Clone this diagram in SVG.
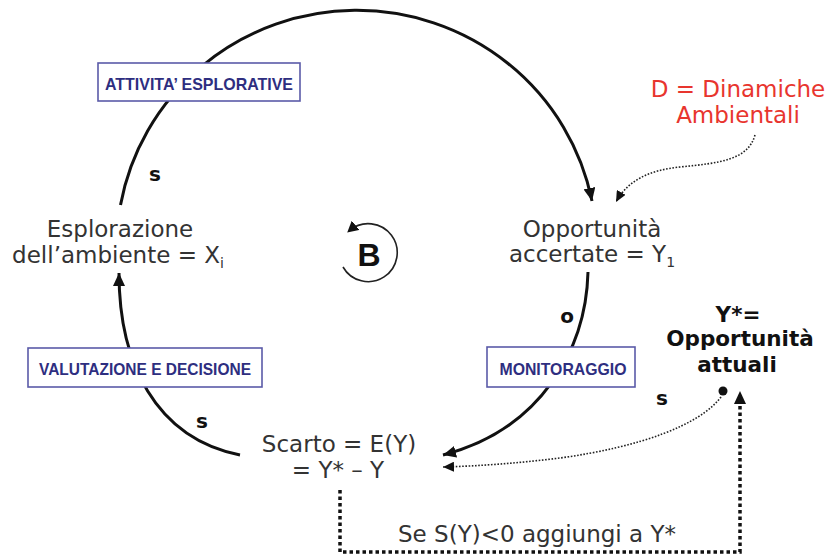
<svg xmlns="http://www.w3.org/2000/svg" width="828" height="559" viewBox="0 0 828 559">
  <style>
    .node { font-family: "DejaVu Sans", Verdana, sans-serif; font-size: 23px; fill: #333333; text-anchor: middle; }
    .sign { font-family: "DejaVu Sans", Verdana, sans-serif; font-size: 20px; font-weight: bold; fill: #111111; text-anchor: middle; }
    .star { font-family: "DejaVu Sans", Verdana, sans-serif; font-size: 21.5px; font-weight: bold; fill: #111111; text-anchor: middle; }
    .red { font-family: "DejaVu Sans", Verdana, sans-serif; font-size: 23px; fill: #e8352e; text-anchor: middle; }
    .tagbox { fill: #ffffff; stroke: #5a5aa8; stroke-width: 1.6; }
    .tagtext { font-family: "Liberation Sans", Arial, sans-serif; font-size: 17px; font-weight: bold; fill: #2e2e80; text-anchor: middle; }
    .flow { fill: none; stroke: #111111; stroke-width: 3; }
    .fine { fill: none; stroke: #222222; stroke-width: 1.6; stroke-dasharray: 1.6 1.6; }
    .bold-dots { fill: none; stroke: #111111; stroke-width: 3.5; stroke-dasharray: 3.5 3; }
  </style>
  <defs>
    <marker id="head" markerUnits="userSpaceOnUse" markerWidth="14" markerHeight="12" refX="13" refY="6" orient="auto">
      <path d="M0,0 L13,6 L0,12 z" fill="#111111"/>
    </marker>
    <marker id="head-small" markerUnits="userSpaceOnUse" markerWidth="12" markerHeight="10" refX="11" refY="5" orient="auto">
      <path d="M0,0 L11,5 L0,10 z" fill="#111111"/>
    </marker>
    <marker id="head-loop" markerUnits="userSpaceOnUse" markerWidth="12" markerHeight="12" refX="8" refY="6" orient="auto">
      <path d="M0,0 L11,6 L0,12 z" fill="#111111"/>
    </marker>
  </defs>

  <rect width="828" height="559" fill="#ffffff"/>

  <!-- connectors -->
  <g id="connectors">
    <!-- exploration -> ascertained opportunities (over the top) -->
    <path class="flow" d="M120.5,205 A240,237 0 0 1 592,201" marker-end="url(#head)"/>
    <!-- ascertained opportunities -> gap -->
    <path class="flow" d="M588,272 C586,350 540,430 443,455" marker-end="url(#head)"/>
    <!-- gap -> exploration -->
    <path class="flow" d="M240,455 C155,438 119,362 119,273" marker-end="url(#head)"/>
    <!-- environmental dynamics -> opportunities -->
    <path class="fine" d="M755,135 C748,160 720,163 680,167 C650,170 628,180 616,202" marker-end="url(#head-small)"/>
    <!-- current opportunities -> gap -->
    <path class="fine" d="M721,397 C700,425 640,447 560,458 C520,463 480,466 443,467" marker-end="url(#head-small)"/>
    <circle cx="723" cy="391" r="4.5" fill="#111111"/>
    <!-- feedback: gap -> current opportunities -->
    <path class="bold-dots" d="M340,490 L340,552 L740,552 L740,400"/>
    <path d="M734,404 L740,391 L746,404 z" fill="#111111"/>
  </g>

  <!-- link labels -->
  <g id="labels">
    <rect class="tagbox" x="98" y="63" width="202" height="38"/>
    <text class="tagtext" x="199" y="90" textLength="188" lengthAdjust="spacingAndGlyphs">ATTIVITA’ ESPLORATIVE</text>
    <rect class="tagbox" x="28" y="348" width="234" height="39"/>
    <text class="tagtext" x="145" y="375" textLength="212" lengthAdjust="spacingAndGlyphs">VALUTAZIONE E DECISIONE</text>
    <rect class="tagbox" x="487" y="347" width="148" height="40"/>
    <text class="tagtext" x="563" y="375" textLength="127" lengthAdjust="spacingAndGlyphs">MONITORAGGIO</text>
    <text class="sign" x="155" y="181">s</text>
    <text class="sign" x="202" y="428">s</text>
    <text class="sign" x="567" y="323">o</text>
    <text class="sign" x="662" y="405">s</text>
    <text class="node" x="537" y="542" font-size="24">Se S(Y)&lt;0 aggiungi a Y*</text>
  </g>

  <!-- loop polarity -->
  <g id="loop-B">
    <path d="M343,267 A29,29 0 1 0 349.5,230.5" fill="none" stroke="#222222" stroke-width="1.6" marker-end="url(#head-loop)"/>
    <text x="369" y="266" font-family="Liberation Sans, Arial, sans-serif" font-size="32" font-weight="bold" fill="#111111" text-anchor="middle">B</text>
  </g>

  <g id="esplorazione">
    <text class="node" x="120" y="237">Esplorazione</text>
    <text class="node" x="118" y="263">dell’ambiente = X<tspan font-size="14" dy="5">i</tspan></text>
  </g>

  <g id="opportunita-accertate">
    <text class="node" x="592" y="237">Opportunità</text>
    <text class="node" x="592" y="262">accertate = Y<tspan font-size="14" dy="5">1</tspan></text>
  </g>

  <g id="scarto">
    <text class="node" x="339" y="452">Scarto = E(Y)</text>
    <text class="node" x="338" y="478">= Y* – Y</text>
  </g>

  <g id="dinamiche">
    <text class="red" x="738" y="97">D = Dinamiche</text>
    <text class="red" x="738" y="123">Ambientali</text>
  </g>

  <g id="opportunita-attuali">
    <text class="star" x="738" y="322">Y*=</text>
    <text class="star" x="740" y="346">Opportunità</text>
    <text class="star" x="737" y="372">attuali</text>
  </g>
</svg>
